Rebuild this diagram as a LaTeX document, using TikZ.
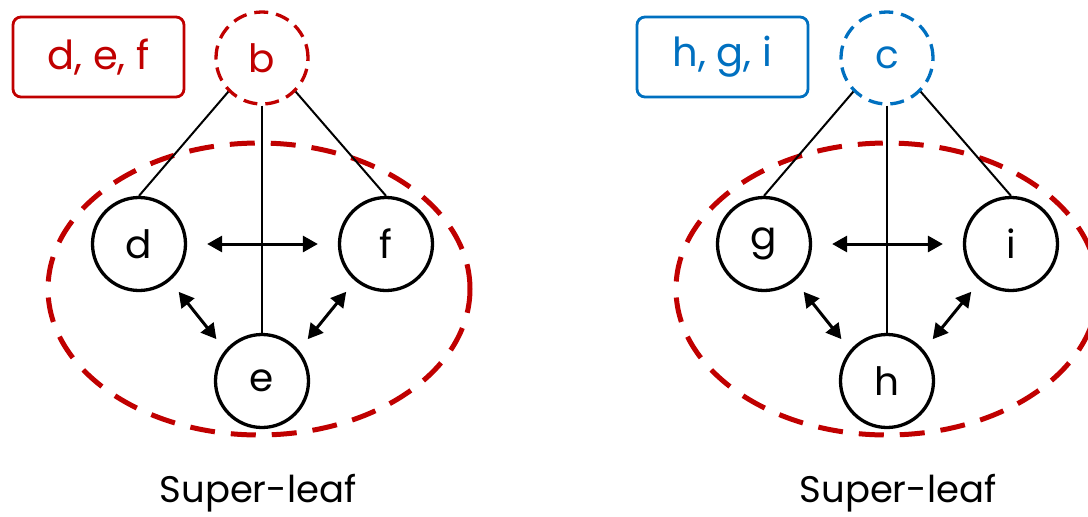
\documentclass[tikz,border=0pt]{standalone}
\usepackage{fontspec}
\setmainfont{Poppins}
\usetikzlibrary{arrows.meta}
\definecolor{leafred}{RGB}{192,0,0}
\definecolor{leafblue}{RGB}{0,112,192}
\tikzset{
  member/.style={circle, draw, line width=3.3pt, minimum size=93pt, inner sep=0pt,
    font=\fontsize{39}{39}\selectfont},
  parent/.style={circle, draw, line width=3.3pt, dash pattern=on 14pt off 8pt,
    minimum size=92pt, inner sep=0pt, font=\fontsize{39}{39}\selectfont},
  listbox/.style={draw, rounded corners=8pt, line width=2.8pt, minimum width=171pt,
    minimum height=80pt, inner sep=0pt, font=\fontsize{40}{40}\selectfont},
  superleaf/.style={leafred, line width=5pt, dash pattern=on 25pt off 16pt},
  tree/.style={line width=2pt},
  swap/.style={line width=3pt, {Triangle[length=15pt,width=16pt]}-{Triangle[length=15pt,width=16pt]}},
  caption/.style={font=\fontsize{37}{37}\selectfont}
}
\begin{document}
\begin{tikzpicture}[x=1pt,y=-1pt]
\useasboundingbox (0,0) rectangle (1088,517);
\clip (0,0) rectangle (1088,517);

% left super-leaf
\draw[superleaf] (259,289) ellipse [x radius=211pt, y radius=146pt];
\node[listbox, leafred] (lbox) at (98.5,57) {d, e, f};
\node[parent, leafred] (b) at (262,58) {b};
\node[member] (d) at (139,244) {d};
\node[member] (f) at (386,244) {f};
\node[member] (e) at (262,381) {e};

\draw[tree] (b.225) -- (d.north);
\draw[tree] (b.south) -- (e.north);
\draw[tree] (b.315) -- (f.north);

\draw[swap, shorten <=20pt, shorten >=20pt] (d) -- (f);
\draw[swap, shorten <=14pt, shorten >=14pt] (d.-50) -- (e.140);
\draw[swap, shorten <=14pt, shorten >=14pt] (f.-130) -- (e.40);

\node[caption] (lcap) at (258,493) {Super-leaf};

% right super-leaf
\draw[superleaf] (887,289) ellipse [x radius=211pt, y radius=146pt];
\node[listbox, leafblue] (rbox) at (722.5,57) {h, g, i};
\node[parent, leafblue] (c) at (887,58) {c};
\node[member] (g) at (764,244) {g};
\node[member] (i) at (1011,244) {i};
\node[member] (h) at (887,381) {h};

\draw[tree] (c.225) -- (g.north);
\draw[tree] (c.south) -- (h.north);
\draw[tree] (c.315) -- (i.north);

\draw[swap, shorten <=20pt, shorten >=20pt] (g) -- (i);
\draw[swap, shorten <=14pt, shorten >=14pt] (g.-50) -- (h.140);
\draw[swap, shorten <=14pt, shorten >=14pt] (i.-130) -- (h.40);

\node[caption] (rcap) at (898,493) {Super-leaf};
\end{tikzpicture}
\end{document}
